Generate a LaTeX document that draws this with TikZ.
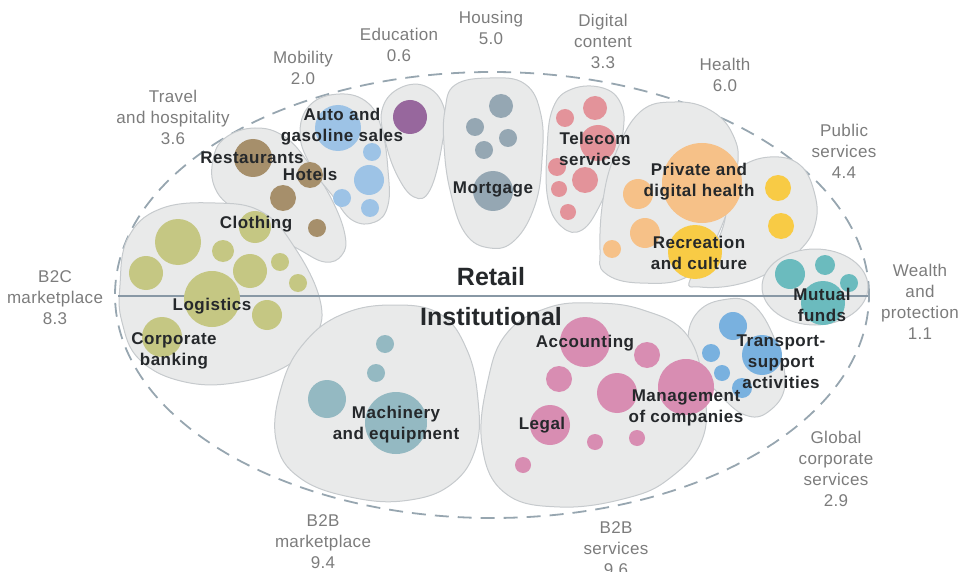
\documentclass[tikz,border=0pt]{standalone}
\usepackage{fontspec}
\setmainfont{Liberation Sans}
\newfontfamily\catfont[LetterSpace=2]{Liberation Sans}
\newfontfamily\subfont[LetterSpace=3]{Liberation Sans}
\usepackage{xcolor}
\definecolor{blobfill}{HTML}{E9EAEA}
\definecolor{blobline}{HTML}{C6CACD}
\definecolor{ringblue}{HTML}{97A6B0}
\definecolor{axisblue}{HTML}{8898A5}
\definecolor{catgray}{HTML}{7C7C7C}
\definecolor{subdark}{HTML}{25282B}
\definecolor{olivec}{HTML}{C5C783}
\definecolor{brownc}{HTML}{A68F6B}
\definecolor{autoc}{HTML}{9DC3E6}
\definecolor{purplec}{HTML}{97679D}
\definecolor{housec}{HTML}{95A7B3}
\definecolor{telec}{HTML}{E3939A}
\definecolor{orangec}{HTML}{F6C188}
\definecolor{yellowc}{HTML}{F8CB45}
\definecolor{tealc}{HTML}{6BBBBE}
\definecolor{transc}{HTML}{79B1DF}
\definecolor{pinkc}{HTML}{D88DB2}
\definecolor{machc}{HTML}{94B9C2}

\begin{document}
\begin{tikzpicture}[x=1pt,y=-1pt,
    blob/.style={fill=blobfill,draw=blobline,line width=1pt},
    cat/.style={text=catgray,align=center,font=\catfont\fontsize{17}{21}\selectfont},
    sub/.style={text=subdark,align=center,font=\subfont\bfseries\fontsize{17}{21}\selectfont},
    big/.style={text=subdark,font=\bfseries\fontsize{25}{28}\selectfont}]
    \useasboundingbox (0,0) rectangle (966,572);
    % dashed ring
    \draw[ringblue,line width=1.8pt,dash pattern=on 14pt off 9pt] (492,295) ellipse (377pt and 223pt);
    % blobs
    \draw[blob] plot[smooth cycle,tension=.7] coordinates {(213,160) (225,138) (255,128) (285,137) (310,165) (332,200) (345,235) (342,255) (325,262) (300,250) (270,232) (235,210) (215,188)};
    \draw[blob] plot[smooth cycle,tension=.7] coordinates {(120,285) (128,238) (160,209) (215,203) (262,212) (295,248) (320,300) (316,336) (290,364) (240,382) (185,382) (140,360) (122,322)};
    \draw[blob] plot[smooth cycle,tension=.7] coordinates {(300,135) (310,105) (340,94) (368,103) (382,130) (388,170) (388,205) (375,222) (352,220) (332,195) (312,168)};
    \draw[blob] plot[smooth cycle,tension=.7] coordinates {(382,110) (398,89) (425,86) (444,108) (442,145) (430,190) (414,197) (397,175) (385,140)};
    \draw[blob] plot[smooth cycle,tension=.7] coordinates {(445,110) (455,85) (490,78) (525,84) (541,115) (542,160) (535,205) (515,240) (490,248) (465,233) (450,190) (444,145)};
    \draw[blob] plot[smooth cycle,tension=.7] coordinates {(547,150) (553,108) (572,89) (603,88) (621,104) (623,132) (613,170) (600,205) (582,230) (562,227) (548,200)};
    \draw[blob] plot[smooth cycle,tension=.7] coordinates {(600,250) (603,200) (615,155) (640,112) (675,102) (710,110) (733,135) (737,170) (720,230) (690,275) (640,283) (605,273)};
    \draw[blob] plot[smooth cycle,tension=.7] coordinates {(740,168) (770,157) (800,165) (815,195) (815,225) (800,250) (770,272) (735,285) (700,287) (690,280) (720,235) (730,190)};
    \draw[blob] (815,287) ellipse (53pt and 38pt);
    \draw[blob] plot[smooth cycle,tension=.7] coordinates {(688,340) (697,313) (722,300) (752,304) (775,340) (785,385) (768,412) (745,415) (720,395) (697,367)};
    \draw[blob] plot[smooth cycle,tension=.7] coordinates {(482,445) (488,380) (507,333) (547,308) (593,303) (643,310) (687,335) (704,390) (702,440) (670,478) (627,498) (560,507) (505,493)};
    \draw[blob] plot[smooth cycle,tension=.7] coordinates {(276,440) (282,385) (305,342) (343,314) (393,305) (440,314) (467,350) (478,400) (476,447) (453,483) (410,500) (355,498) (300,478)};
    % retail / institutional divide
    \coordinate (axisL) at (118,296);
    \coordinate (axisR) at (868,296);
    \draw[axisblue,line width=1.5pt] (axisL) -- (axisR);
    % bubbles
    \foreach \cx/\cy/\r in {178/242/23,146/273/17,223/251/11,250/271/17,280/262/9,298/283/9,212/299/28,267/315/15,162/337/20,255/227/16}
        \fill[olivec] (\cx,\cy) circle (\r pt);
    \foreach \cx/\cy/\r in {253/158/19,310/175/13,283/198/13,317/228/9}
        \fill[brownc] (\cx,\cy) circle (\r pt);
    \foreach \cx/\cy/\r in {338/128/23,372/152/9,369/180/15,342/198/9,370/208/9}
        \fill[autoc] (\cx,\cy) circle (\r pt);
    \fill[purplec] (410,117) circle (17pt);
    \foreach \cx/\cy/\r in {501/106/12,475/127/9,508/138/9,484/150/9,493/191/20}
        \fill[housec] (\cx,\cy) circle (\r pt);
    \foreach \cx/\cy/\r in {595/108/12,565/118/9,598/143/18,557/167/9,585/180/13,559/189/8,568/212/8}
        \fill[telec] (\cx,\cy) circle (\r pt);
    \foreach \cx/\cy/\r in {702/183/40,638/194/15,645/233/15,612/249/9}
        \fill[orangec] (\cx,\cy) circle (\r pt);
    \foreach \cx/\cy/\r in {695/252/27,778/188/13,781/226/13}
        \fill[yellowc] (\cx,\cy) circle (\r pt);
    \foreach \cx/\cy/\r in {790/274/15,825/265/10,849/283/9,823/303/22}
        \fill[tealc] (\cx,\cy) circle (\r pt);
    \foreach \cx/\cy/\r in {733/326/14,711/353/9,762/355/20,722/373/8,742/388/10}
        \fill[transc] (\cx,\cy) circle (\r pt);
    \foreach \cx/\cy/\r in {585/342/25,647/355/13,559/379/13,617/393/20,686/387/28,550/425/20,595/442/8,637/438/8,523/465/8}
        \fill[pinkc] (\cx,\cy) circle (\r pt);
    \foreach \cx/\cy/\r in {385/344/9,376/373/9,327/399/19,396/423/31}
        \fill[machc] (\cx,\cy) circle (\r pt);
    % segment labels
    \node[cat] (travel) at (173,117) {Travel\\and hospitality\\3.6};
    \node[cat] (mobility) at (303,68) {Mobility\\2.0};
    \node[cat] (education) at (399,45) {Education\\0.6};
    \node[cat] (housing) at (491,28) {Housing\\5.0};
    \node[cat] (digital) at (603,41) {Digital\\content\\3.3};
    \node[cat] (health) at (725,75) {Health\\6.0};
    \node[cat] (public) at (844,151) {Public\\services\\4.4};
    \node[cat] (wealth) at (920,302) {Wealth\\and\\protection\\1.1};
    \node[cat] (btoc) at (55,298) {B2C\\marketplace\\8.3};
    \node[cat] (btobm) at (323,542) {B2B\\marketplace\\9.4};
    \node[cat] (btobs) at (616,549) {B2B\\services\\9.6};
    \node[cat] (global) at (836,469) {Global\\corporate\\services\\2.9};
    % sector labels
    \node[sub] (auto) at (342,127) {Auto and\\gasoline sales};
    \node[sub] (restaurants) at (252,158) {Restaurants};
    \node[sub] (hotels) at (310,174) {Hotels};
    \node[sub] (clothing) at (256,224) {Clothing};
    \node[sub] (logistics) at (212,306) {Logistics};
    \node[sub] (corporate) at (174,351) {Corporate\\banking};
    \node[sub] (mortgage) at (493,189) {Mortgage};
    \node[sub] (telecom) at (595,149) {Telecom\\services};
    \node[sub] (private) at (699,182) {Private and\\digital health};
    \node[sub] (recreation) at (699,253) {Recreation\\and culture};
    \node[sub] (mutual) at (822,305) {Mutual\\funds};
    \node[sub] (transport) at (781,362) {Transport-\\support\\activities};
    \node[sub] (accounting) at (585,343) {Accounting};
    \node[sub] (management) at (686,408) {Management\\of companies};
    \node[sub] (legal) at (542,425) {Legal};
    \node[sub] (machinery) at (396,425) {Machinery\\and equipment};
    \node[big] (retail) at (491,277) {Retail};
    \node[big] (institutional) at (491,317) {Institutional};
\end{tikzpicture}
\end{document}
